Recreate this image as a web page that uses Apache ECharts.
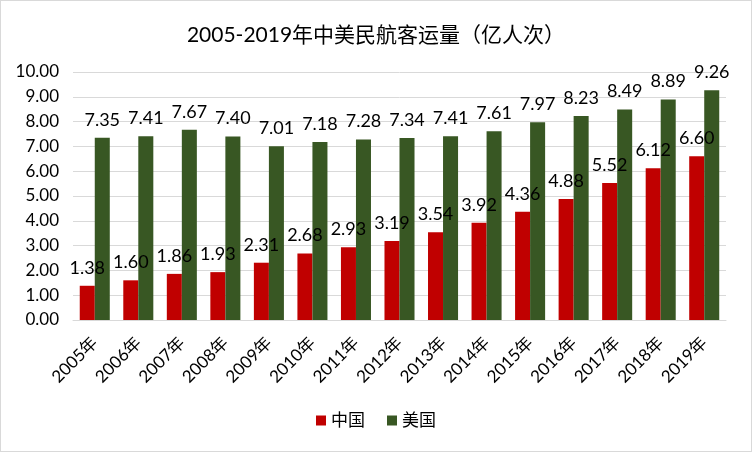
<!DOCTYPE html>
<html><head><meta charset="utf-8">
<script src="https://cdn.jsdelivr.net/npm/echarts@6/dist/echarts.min.js"></script>
<style>html,body{margin:0;padding:0;background:#fff}#c{width:752px;height:452px;box-sizing:border-box;border:1px solid #d9d9d9}</style>
</head><body><div id="c"></div>
<script>
var categories = ['2005年','2006年','2007年','2008年','2009年','2010年','2011年','2012年','2013年','2014年','2015年','2016年','2017年','2018年','2019年'];
var china = [1.38,1.60,1.86,1.93,2.31,2.68,2.93,3.19,3.54,3.92,4.36,4.88,5.52,6.12,6.60];
var usa = [7.35,7.41,7.67,7.40,7.01,7.18,7.28,7.34,7.41,7.61,7.97,8.23,8.49,8.89,9.26];
var seriesNames = ['中国','美国'];
var titleText = '2005-2019年中美民航客运量（亿人次）';

var FONT = "Lato, 'Noto Sans CJK SC', sans-serif";
var chart = echarts.init(document.getElementById('c'));
var lbl = {show:true, position:'top', distance:9, color:'#000', fontSize:18, fontFamily:FONT, formatter:function(p){return p.value.toFixed(2);}};
chart.setOption({
  animation:false,
  title:{text:titleText, left:'center', top:19, textStyle:{fontSize:21, fontWeight:'normal', color:'#000', fontFamily:FONT}},
  legend:{bottom:17, itemWidth:10, itemHeight:10, itemGap:22, icon:'rect', textStyle:{fontSize:17, color:'#000', fontFamily:FONT}, data:seriesNames},
  grid:{left:72, right:25, top:71, bottom:131},
  xAxis:{type:'category', data:categories,
    axisLine:{lineStyle:{color:'#d9d9d9'}}, axisTick:{show:false},
    axisLabel:{rotate:45, interval:0, color:'#000', fontSize:17, fontFamily:FONT, margin:20}},
  yAxis:{type:'value', min:0, max:10, interval:1,
    axisLine:{show:false}, axisTick:{show:false},
    splitLine:{lineStyle:{color:'#d9d9d9'}},
    axisLabel:{color:'#000', fontSize:17, fontFamily:FONT, margin:14, formatter:function(v){return v.toFixed(2);}}},
  series:[
    {name:seriesNames[0], type:'bar', data:china, itemStyle:{color:'#C00000'}, barGap:'0%', barCategoryGap:'31%', label:lbl},
    {name:seriesNames[1], type:'bar', data:usa, itemStyle:{color:'#385723'}, barGap:'0%', barCategoryGap:'31%', label:lbl}
  ]
});
</script></body></html>
